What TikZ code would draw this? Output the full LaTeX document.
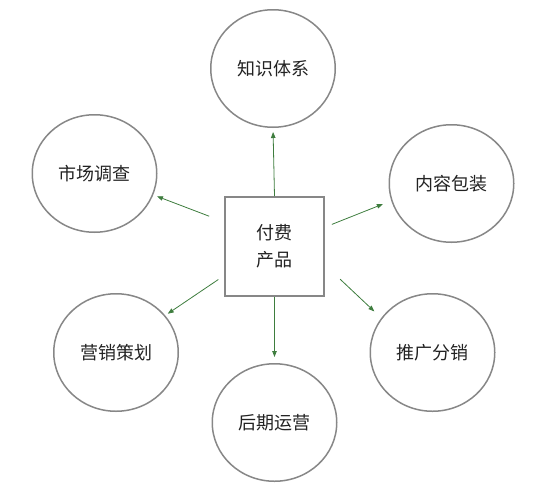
\documentclass[tikz,border=0pt]{standalone}
\usepackage{fontspec}
\newfontfamily\cjk{Noto Sans CJK SC}
\usetikzlibrary{arrows.meta,shapes.geometric}
\definecolor{ringgray}{RGB}{135,135,135}
\definecolor{linkgreen}{RGB}{62,125,62}
\definecolor{inkgray}{RGB}{34,34,34}
\tikzset{
  topic/.style={ellipse,draw=ringgray,line width=1.5pt,minimum width=124.5pt,
    minimum height=117.5pt,inner sep=0pt,text=inkgray,font=\cjk\fontsize{18}{22}\selectfont},
  core/.style={rectangle,draw=ringgray,line width=1.8pt,minimum size=99pt,
    align=center,text=inkgray,font=\cjk\fontsize{18}{27}\selectfont},
  link/.style={draw=linkgreen,line width=0.8pt,-{Triangle[length=6pt,width=4.5pt]}}
}
\begin{document}
\begin{tikzpicture}[x=1pt,y=-1pt]
  \useasboundingbox (0,0) rectangle (543,493);
  \draw
    (274.5,246.5) node[core] (core){付费\\产品}
    (273,68.5) node[topic] (know){知识体系}
    (94.5,173.5) node[topic] (survey){市场调查}
    (451.5,183.5) node[topic] (pack){内容包装}
    (116,352.5) node[topic] (plan){营销策划}
    (432.5,352.5) node[topic] (sale){推广分销}
    (274.5,422.5) node[topic] (ops){后期运营};
  \begin{scope}[link]
    \draw[shorten >=4pt] (core.north) to (know.south);
    \draw[shorten <=16pt,shorten >=4pt] (core.154.9) to (survey.-20.6);
    \draw[shorten <=7.5pt,shorten >=9pt] (core.21.4) to (pack.196.7);
    \draw[shorten <=7pt,shorten >=3pt] (core.210.4) to (plan.37.8);
    \draw[shorten <=21pt,shorten >=9.5pt] (core.-20.1) to (sale.146.4);
    \draw[shorten >=6pt] (core.south) to (ops.north);
  \end{scope}
\end{tikzpicture}
\end{document}
